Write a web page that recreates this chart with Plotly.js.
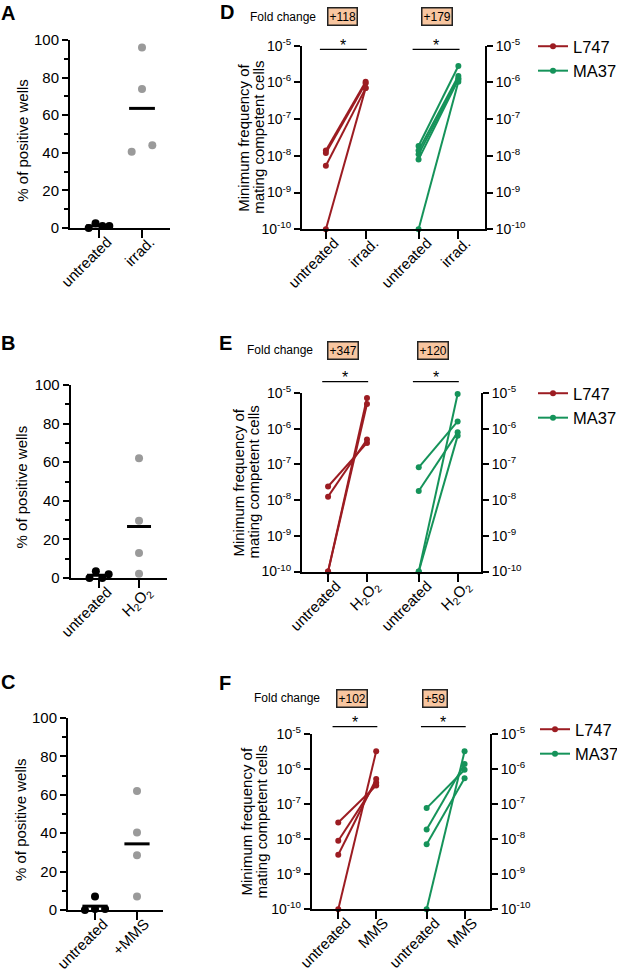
<!DOCTYPE html>
<html><head><meta charset="utf-8">
<script src="https://cdn.plot.ly/plotly-3.0.1.min.js"></script>
<style>
html,body{margin:0;padding:0;background:#fff}
#wrap{position:relative;width:617px;height:974px;overflow:hidden}
#chart{width:617px;height:974px}
.catlab{position:absolute;white-space:nowrap;font-family:Arial,'Liberation Sans',Helvetica,sans-serif;font-size:15px;line-height:1;color:#000;transform-origin:100% 0;transform:rotate(-45deg)}
.catlab sub{font-size:70%;vertical-align:-0.3em;line-height:0}
</style>
</head><body><div id="wrap"><div id="chart"></div></div>
<script>
// ---------------- data ----------------
const catsA = ['untreated', 'irrad.'];
const catsB = ['untreated', 'H<sub>2</sub>O<sub>2</sub>'];
const catsC = ['untreated', '+MMS'];
const pctA_untreated = [0, 2.5, 1, 1];
const pctA_treated = [96, 74, 40.5, 44];
const pctB_untreated = [0, 3.5, 0, 2];
const pctB_treated = [62, 29.6, 13, 2.2];
const pctC_untreated = [0, 7, 0.5, 0.5];
const pctC_treated = [62, 40.3, 28.5, 7];
const pctTickVals = [0, 20, 40, 60, 80, 100];

const strains = ['L747', 'MA37'];
const catsD = ['untreated', 'irrad.'];
const catsE = ['untreated', 'H<sub>2</sub>O<sub>2</sub>'];
const catsF = ['untreated', 'MMS'];

const D_L747_untreated = [1.4e-8, 1.2e-8, 5.4e-9, 1e-10];
const D_L747_treated   = [1.05e-6, 9.5e-7, 7e-7, 7e-7];
const D_MA37_untreated = [1.85e-8, 1.4e-8, 1.1e-8, 8e-9, 1e-10];
const D_MA37_treated   = [2.8e-6, 1.5e-6, 1.3e-6, 1.2e-6, 1.05e-6];

const E_L747_untreated = [2.4e-8, 1.25e-8, 1e-10, 1e-10];
const E_L747_treated   = [4e-7, 5e-7, 7.2e-6, 4.9e-6];
const E_MA37_untreated = [8.3e-8, 1.8e-8, 1e-10, 1e-10];
const E_MA37_treated   = [1.6e-6, 7.9e-7, 9.4e-6, 6.3e-7];

const F_L747_untreated = [3e-8, 9e-9, 3.6e-9, 1e-10];
const F_L747_treated   = [3.4e-7, 4.1e-7, 5.2e-7, 3.2e-6];
const F_MA37_untreated = [7.7e-8, 1.9e-8, 7.2e-9, 1e-10];
const F_MA37_treated   = [9.6e-7, 1.4e-6, 5.5e-7, 3.2e-6];

const foldD = ['+118', '+179'];
const foldE = ['+347', '+120'];
const foldF = ['+102', '+59'];

const logTickVals = [1e-10, 1e-9, 1e-8, 1e-7, 1e-6, 1e-5];
const logTickText = ['10<sup>-10</sup>', '10<sup>-9</sup>', '10<sup>-8</sup>', '10<sup>-7</sup>', '10<sup>-6</sup>', '10<sup>-5</sup>'];

// ---------------- helpers ----------------
const W = 617, H = 974;
const X = p => p / W;
const Y = p => 1 - p / H;
const FONT = 'Arial, Liberation Sans, Helvetica, sans-serif';
const RED = '#9c1c22', GREEN = '#15935a', GRAY = '#9a9a9a';
const G = 2.33; // horizontal offset of second strain group

function spread(vals, thresh, w) {
  const idx = vals.map((v, i) => i).sort((a, b) => vals[a] - vals[b]);
  const groups = []; let cur = [idx[0]];
  for (let k = 1; k < idx.length; k++) {
    if (vals[idx[k]] - vals[idx[k - 1]] < thresh) cur.push(idx[k]);
    else { groups.push(cur); cur = [idx[k]]; }
  }
  groups.push(cur);
  const off = new Array(vals.length).fill(0);
  groups.forEach(g => {
    g.sort((a, b) => a - b);
    const n = g.length;
    if (n > 1) g.forEach((i, j) => { off[i] = -w + 2 * w * j / (n - 1); });
  });
  return off;
}

const traces = [];
function pctPanel(n, untreated, treated) {
  const xa = 'x' + (n === 1 ? '' : n), ya = 'y' + (n === 1 ? '' : n);
  [[untreated, '#000'], [treated, GRAY]].forEach(([vals, col], ci) => {
    const off = spread(vals, 4.5, 0.24);
    traces.push({type: 'scatter', mode: 'markers', x: vals.map((v, i) => ci + off[i]), y: vals,
      xaxis: xa, yaxis: ya, marker: {color: col, size: 8}, cliponaxis: false, showlegend: false, hoverinfo: 'skip'});
  });
  [untreated, treated].forEach((vals, ci) => {
    const m = vals.reduce((a, b) => a + b, 0) / vals.length;
    traces.push({type: 'scatter', mode: 'lines', x: [ci - 0.3, ci + 0.3], y: [m, m], xaxis: xa, yaxis: ya,
      line: {color: '#000', width: 3}, cliponaxis: false, showlegend: false, hoverinfo: 'skip'});
  });
}
pctPanel(1, pctA_untreated, pctA_treated);
pctPanel(2, pctB_untreated, pctB_treated);
pctPanel(3, pctC_untreated, pctC_treated);

function logPanel(n, rightN, legendId, groups) {
  groups.forEach(([u, t, col], s) => {
    const base = s * G, x = [], y = [];
    u.forEach((v, i) => { x.push(base, base + 1, null); y.push(v, t[i], null); });
    traces.push({type: 'scatter', mode: 'lines+markers', name: strains[s], x, y,
      xaxis: 'x' + n, yaxis: 'y' + n, legend: legendId,
      line: {color: col, width: 2}, marker: {color: col, size: 6}, cliponaxis: false, hoverinfo: 'skip'});
  });
  traces.push({type: 'scatter', mode: 'markers', x: [0], y: [1e-10], xaxis: 'x' + n, yaxis: 'y' + rightN,
    marker: {opacity: 0}, showlegend: false, hoverinfo: 'skip'});
}
logPanel(4, 7, 'legend', [[D_L747_untreated, D_L747_treated, RED], [D_MA37_untreated, D_MA37_treated, GREEN]]);
logPanel(5, 8, 'legend2', [[E_L747_untreated, E_L747_treated, RED], [E_MA37_untreated, E_MA37_treated, GREEN]]);
logPanel(6, 9, 'legend3', [[F_L747_untreated, F_L747_treated, RED], [F_MA37_untreated, F_MA37_treated, GREEN]]);

// ---------------- axes ----------------
function catX(dom, range, anchor, tickvals) {
  return {domain: [X(dom[0]), X(dom[1])], range, anchor, tickmode: 'array', tickvals,
    showticklabels: false, ticks: 'outside', ticklen: 8, tickwidth: 2, tickcolor: '#000',
    showline: true, linewidth: 2, linecolor: '#000', showgrid: false, zeroline: false, fixedrange: true};
}
function pctY(dom, anchor) {
  return {domain: [Y(dom[1]), Y(dom[0])], range: [0, 100], anchor, tickmode: 'array', tickvals: pctTickVals,
    ticks: 'outside', ticklen: 6, tickwidth: 2, tickcolor: '#000',
    minor: {dtick: 10, ticks: 'outside', ticklen: 4, tickwidth: 2, tickcolor: '#000', showgrid: false},
    showline: true, linewidth: 2, linecolor: '#000', showgrid: false, zeroline: false,
    tickfont: {size: 15, color: '#000', family: FONT}, fixedrange: true};
}
function logY(dom, anchor, extra) {
  return Object.assign({domain: [Y(dom[1]), Y(dom[0])], type: 'log', range: [-10, -5], anchor,
    tickmode: 'array', tickvals: logTickVals, ticktext: logTickText,
    ticks: 'outside', ticklen: 6, tickwidth: 2, tickcolor: '#000',
    showline: true, linewidth: 2, linecolor: '#000', showgrid: false, zeroline: false,
    tickfont: {size: 14, color: '#000', family: FONT}, fixedrange: true}, extra || {});
}
const pos4 = [0, 1, G, G + 1];

const domA = {x: [70, 170], y: [40, 228]};
const domB = {x: [70.7, 167], y: [385, 578]};
const domC = {x: [68, 163], y: [718, 910]};
const domD = {x: [302, 485], y: [45.7, 229.3]};
const domE = {x: [302, 481], y: [393, 571.5]};
const domF = {x: [311.7, 490], y: [734, 909.3]};

const layout = {
  width: W, height: H, margin: {l: 0, r: 0, t: 0, b: 0, autoexpand: false},
  paper_bgcolor: '#fff', plot_bgcolor: 'rgba(0,0,0,0)',
  font: {family: FONT, color: '#000'},
  xaxis:  catX(domA.x, [-0.674, 1.651], 'y', [0, 1]),
  yaxis:  pctY(domA.y, 'x'),
  xaxis2: catX(domB.x, [-0.71, 1.7], 'y2', [0, 1]),
  yaxis2: pctY(domB.y, 'x2'),
  xaxis3: catX(domC.x, [-0.643, 1.619], 'y3', [0, 1]),
  yaxis3: pctY(domC.y, 'x3'),
  xaxis4: catX(domD.x, [-0.6, 4.0], 'y4', pos4),
  yaxis4: logY(domD.y, 'x4'),
  yaxis7: logY(domD.y, 'x4', {overlaying: 'y4', side: 'right'}),
  xaxis5: catX(domE.x, [-0.67, 3.93], 'y5', pos4),
  yaxis5: logY(domE.y, 'x5'),
  yaxis8: logY(domE.y, 'x5', {overlaying: 'y5', side: 'right'}),
  xaxis6: catX(domF.x, [-0.7, 4.0], 'y6', pos4),
  yaxis6: logY(domF.y, 'x6'),
  yaxis9: logY(domF.y, 'x6', {overlaying: 'y6', side: 'right'}),
  showlegend: true,
  annotations: [],
  shapes: []
};
const legendBase = {xanchor: 'left', yanchor: 'top', bgcolor: 'rgba(0,0,0,0)', borderwidth: 0,
  font: {size: 16.5, family: FONT, color: '#000'}, tracegroupgap: 0, itemwidth: 30};
layout.legend  = Object.assign({x: X(533), y: Y(29)}, legendBase);
layout.legend2 = Object.assign({x: X(533), y: Y(376)}, legendBase);
layout.legend3 = Object.assign({x: X(535), y: Y(712)}, legendBase);

// ---------------- annotations ----------------
const ann = layout.annotations;
function txt(x, y, text, size, opts) {
  ann.push(Object.assign({xref: 'paper', yref: 'paper', x: X(x), y: Y(y), text, showarrow: false,
    xanchor: 'center', yanchor: 'middle', font: {size, family: FONT, color: '#000'}}, opts || {}));
}
[['A', 8, 13], ['B', 8, 343], ['C', 8, 682], ['D', 227, 12], ['E', 225, 343], ['F', 225, 683]]
  .forEach(([t, x, y]) => txt(x, y, '<b>' + t + '</b>', 20));
txt(21.7, 140, '% of positive wells', 15, {textangle: -90});
txt(21.7, 486.7, '% of positive wells', 15, {textangle: -90});
txt(20, 820, '% of positive wells', 15, {textangle: -90});
[[243.3, 258.3, 137.5], [238.3, 253.3, 482.3], [246.7, 261.7, 821.8]].forEach(([x1, x2, y]) => {
  txt(x1, y, 'Minimum frequency of', 15, {textangle: -90});
  txt(x2, y, 'mating competent cells', 15, {textangle: -90});
});
function fold(y, xLabel, xs, vals) {
  txt(xLabel, y, 'Fold change', 12);
  vals.forEach((v, i) => txt(xs[i], y, v, 12, {bgcolor: '#f8c6a0', bordercolor: '#222', borderwidth: 1.5, borderpad: 1}));
}
fold(16.7, 283, [342.7, 436.7], foldD);
fold(350, 280, [343.3, 433.3], foldE);
fold(698.3, 287.3, [351.7, 435], foldF);
function sig(xa, yBar) {
  [0, G].forEach(b => {
    layout.shapes.push({type: 'line', xref: xa, yref: 'paper', x0: b - 0.15, x1: b + 1.03, y0: Y(yBar), y1: Y(yBar),
      line: {color: '#000', width: 1.2}});
    ann.push({xref: xa, yref: 'paper', x: b + 0.44, y: Y(yBar - 4), text: '*', showarrow: false,
      xanchor: 'center', yanchor: 'middle', font: {size: 16, family: FONT, color: '#000'}});
  });
}
sig('x4', 49.3);
sig('x5', 381.7);
sig('x6', 726.7);

// ---------------- rotated category labels (positioned with Plotly's own x scales) ----------------
const catLabelSpecs = [
  ['xaxis',  [0, 1], catsA, domA.y[1]],
  ['xaxis2', [0, 1], catsB, domB.y[1]],
  ['xaxis3', [0, 1], catsC, domC.y[1]],
  ['xaxis4', pos4, [catsD[0], catsD[1], catsD[0], catsD[1]], domD.y[1]],
  ['xaxis5', pos4, [catsE[0], catsE[1], catsE[0], catsE[1]], domE.y[1]],
  ['xaxis6', pos4, [catsF[0], catsF[1], catsF[0], catsF[1]], domF.y[1]]
];
function addCatLabels(gd) {
  const host = document.getElementById('wrap');
  host.querySelectorAll('.catlab').forEach(e => e.remove());
  const fl = gd._fullLayout;
  catLabelSpecs.forEach(([axName, positions, labels, bottomPx]) => {
    const ax = fl[axName];
    positions.forEach((p, i) => {
      const px = ax._offset + ax.l2p(p);
      const d = document.createElement('div');
      d.className = 'catlab';
      d.innerHTML = labels[i];
      host.appendChild(d);
      const w = d.offsetWidth;
      d.style.left = (px + 4 - w) + 'px';
      d.style.top = (bottomPx + 6) + 'px';
    });
  });
}
Plotly.newPlot('chart', traces, layout, {staticPlot: true, displayModeBar: false}).then(gd => addCatLabels(gd));
</script></body></html>
